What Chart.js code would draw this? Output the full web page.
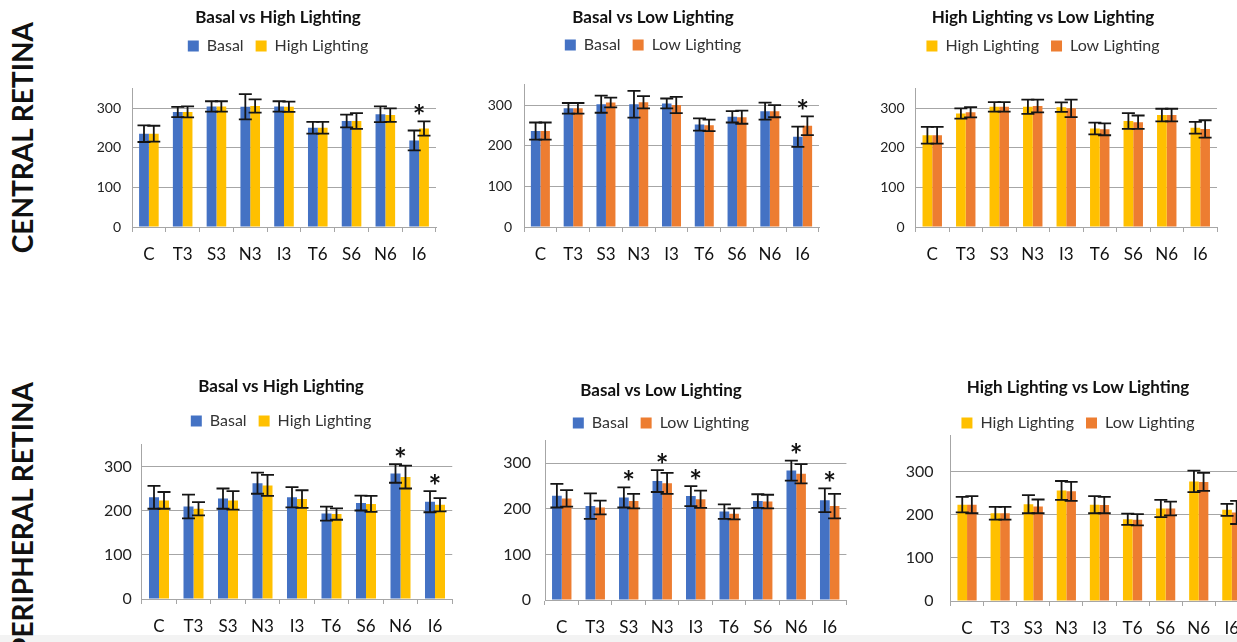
<!DOCTYPE html>
<html>
<head>
<meta charset="utf-8">
<script src="https://cdn.jsdelivr.net/npm/chart.js@4.4.0/dist/chart.umd.min.js"></script>
<style>
  html, body { margin: 0; padding: 0; background: #fff; overflow: hidden; }
  body { width: 1237px; height: 642px; position: relative; }
  canvas { position: absolute; }
  .side {
    position: absolute;
    writing-mode: vertical-rl;
    transform: rotate(180deg);
    font: bold 28px Lato, "Open Sans", sans-serif;
    line-height: 30px;
    color: #111;
    white-space: nowrap;
  }
  .strip { position: absolute; left: 0; top: 635px; width: 1237px; height: 7px; background: #f3f3f3; }
</style>
</head>
<body>
<div class="strip"></div>
<div class="side" style="left:7px; top:22px">CENTRAL RETINA</div>
<div class="side" style="left:7px; top:382px">PERIPHERAL RETINA</div>

<script>
// ---- data ----
const categories = ['C', 'T3', 'S3', 'N3', 'I3', 'T6', 'S6', 'N6', 'I6'];

// central retina
const cBH_basal    = [236, 291, 305, 304, 305, 251, 268, 285, 219];
const cBH_basalErr = [21, 13, 13, 32, 13, 15, 16, 20, 25];
const cBH_high     = [236, 291, 305, 306, 304, 251, 268, 283, 249];
const cBH_highErr  = [20, 14, 13, 17, 13, 15, 20, 17, 18];
const cBH_sig      = [0, 0, 0, 0, 0, 0, 0, 0, 1];

const cBL_basal    = [236, 292, 302, 302, 304, 252, 271, 285, 222];
const cBL_basalErr = [21, 13, 21, 33, 12, 15, 14, 21, 25];
const cBL_low      = [236, 292, 306, 307, 300, 250, 270, 285, 249];
const cBL_lowErr   = [21, 13, 12, 15, 20, 14, 16, 15, 23];
const cBL_sig      = [0, 0, 0, 0, 0, 0, 0, 0, 1];

const cHL_high     = [232, 287, 304, 304, 303, 249, 268, 283, 251];
const cHL_highErr  = [21, 13, 12, 18, 12, 15, 20, 16, 15];
const cHL_low      = [232, 290, 304, 306, 300, 247, 265, 283, 248];
const cHL_lowErr   = [21, 13, 12, 16, 22, 15, 17, 16, 22];
const cHL_sig      = [0, 0, 0, 0, 0, 0, 0, 0, 0];

// peripheral retina
const pBH_basal    = [231, 210, 228, 263, 231, 194, 218, 285, 221];
const pBH_basalErr = [26, 27, 23, 24, 23, 16, 17, 21, 24];
const pBH_high     = [224, 205, 224, 258, 227, 193, 216, 277, 214];
const pBH_highErr  = [19, 15, 21, 24, 20, 13, 18, 26, 15];
const pBH_sig      = [0, 0, 0, 0, 0, 0, 0, 1, 1];

const pBL_basal    = [229, 206, 225, 261, 228, 194, 217, 284, 219];
const pBL_basalErr = [26, 28, 22, 24, 22, 16, 15, 22, 26];
const pBL_low      = [223, 203, 217, 256, 221, 189, 216, 277, 206];
const pBL_lowErr   = [18, 15, 16, 23, 19, 12, 15, 21, 27];
const pBL_sig      = [0, 0, 1, 1, 1, 0, 0, 1, 1];

const pHL_high     = [224, 204, 225, 257, 224, 190, 215, 278, 212];
const pHL_highErr  = [18, 15, 21, 22, 20, 13, 20, 25, 14];
const pHL_low      = [224, 204, 220, 255, 223, 189, 215, 277, 206];
const pHL_lowErr   = [20, 15, 16, 22, 19, 13, 16, 21, 27];
const pHL_sig      = [0, 0, 0, 0, 0, 0, 0, 0, 0];

const BLUE = '#4472C4', YELLOW = '#FFC000', ORANGE = '#ED7D31';
const GRID = '#a6a6a6';

Chart.defaults.font.family = 'Lato, "Open Sans", sans-serif';
Chart.defaults.color = '#222';

// where each panel sits on the page (plot area edges, title / legend centres)
const panels = [
  { title: 'Basal vs High Lighting', names: ['Basal', 'High Lighting'], colors: [BLUE, YELLOW],
    values: [cBH_basal, cBH_high], errors: [cBH_basalErr, cBH_highErr], sig: cBH_sig, yMax: 350,
    box: { left: 132, right: 436, top: 88.6, bottom: 226.7, cx: 278, titleY: 18, legendY: 46 }, yFont: 14, yPad: 11 },
  { title: 'Basal vs Low Lighting', names: ['Basal', 'Low Lighting'], colors: [BLUE, ORANGE],
    values: [cBL_basal, cBL_low], errors: [cBL_basalErr, cBL_lowErr], sig: cBL_sig, yMax: 350,
    box: { left: 524, right: 819, top: 84.7, bottom: 226.7, cx: 653, titleY: 18, legendY: 45 }, yFont: 14, yPad: 12 },
  { title: 'High Lighting vs Low Lighting', names: ['High Lighting', 'Low Lighting'], colors: [YELLOW, ORANGE],
    values: [cHL_high, cHL_low], errors: [cHL_highErr, cHL_lowErr], sig: cHL_sig, yMax: 350,
    box: { left: 915.5, right: 1217, top: 88.6, bottom: 226.7, cx: 1043, titleY: 18, legendY: 46 }, yFont: 14, yPad: 11 },
  { title: 'Basal vs High Lighting', names: ['Basal', 'High Lighting'], colors: [BLUE, YELLOW],
    values: [pBH_basal, pBH_high], errors: [pBH_basalErr, pBH_highErr], sig: pBH_sig, yMax: 350,
    box: { left: 141.75, right: 452.25, top: 444.9, bottom: 599.3, cx: 281, titleY: 387, legendY: 421 }, yFont: 16, yPad: 10 },
  { title: 'Basal vs Low Lighting', names: ['Basal', 'Low Lighting'], colors: [BLUE, ORANGE],
    values: [pBL_basal, pBL_low], errors: [pBL_basalErr, pBL_lowErr], sig: pBL_sig, yMax: 350,
    box: { left: 545, right: 849, top: 440.5, bottom: 600, cx: 661, titleY: 391, legendY: 423 }, yFont: 16, yPad: 14 },
  { title: 'High Lighting vs Low Lighting', names: ['High Lighting', 'Low Lighting'], colors: [YELLOW, ORANGE],
    values: [pHL_high, pHL_low], errors: [pHL_highErr, pHL_lowErr], sig: pHL_sig, yMax: 386,
    box: { left: 950.5, right: 1248.4, top: 435, bottom: 600.7, cx: 1078, titleY: 388, legendY: 423 }, yFont: 16, yPad: 17 },
];

const TITLE_SIZE = 17, LEGEND_SIZE = 16, LEGEND_PAD = 12;

// error bars and significance stars, drawn from the scales
const errorBars = {
  id: 'errorBars',
  afterDatasetsDraw(chart, args, opts) {
    const ctx = chart.ctx;
    const y = chart.scales.y, x = chart.scales.x;
    ctx.save();
    ctx.strokeStyle = '#151515';
    ctx.lineWidth = 1.8;
    chart.data.datasets.forEach((ds, i) => {
      chart.getDatasetMeta(i).data.forEach((bar, j) => {
        const top = y.getPixelForValue(ds.data[j] + ds.errors[j]);
        const bot = y.getPixelForValue(ds.data[j] - ds.errors[j]);
        ctx.beginPath();
        ctx.moveTo(bar.x, top); ctx.lineTo(bar.x, bot);
        ctx.moveTo(bar.x - 6.5, top); ctx.lineTo(bar.x + 6.5, top);
        ctx.moveTo(bar.x - 6.5, bot); ctx.lineTo(bar.x + 6.5, bot);
        ctx.stroke();
      });
    });
    ctx.fillStyle = '#111';
    ctx.font = 'bold 30px Lato, "Open Sans", sans-serif';
    ctx.textAlign = 'center';
    ctx.textBaseline = 'alphabetic';
    (opts.sig || []).forEach((s, j) => {
      if (!s) return;
      let hi = Infinity;
      chart.data.datasets.forEach(ds => {
        hi = Math.min(hi, y.getPixelForValue(ds.data[j] + ds.errors[j]));
      });
      ctx.fillText('*', x.getPixelForValue(j), hi - 12 + 17.5);
    });
    ctx.restore();
  }
};

// extra room under the legend
const legendGap = {
  id: 'legendGap',
  beforeInit(chart, args, opts) {
    const legend = chart.legend;
    const fit = legend.fit;
    legend.fit = function () {
      fit.call(this);
      this.height += opts.extra || 0;
    };
  }
};

panels.forEach((p) => {
  const b = p.box;
  const lh = TITLE_SIZE * 1.2;
  const canvasLeft = Math.floor(Math.min(b.left - 50, 2 * b.cx - b.right));
  const canvasW = Math.ceil(Math.max(2 * (b.cx - canvasLeft), b.right - canvasLeft));
  const canvasTop = Math.round(b.titleY - 2 - lh / 2);
  const titleTop = b.titleY - lh / 2 - canvasTop;
  const xH = 44;
  const canvasH = Math.round(b.bottom + xH - canvasTop);
  const yW = b.left - canvasLeft;
  const padRight = canvasLeft + canvasW - b.right;
  const titleBottom = b.legendY - (LEGEND_PAD + LEGEND_SIZE / 2) - (b.titleY + lh / 2);
  const legendTop = b.titleY + lh / 2 + titleBottom;
  const extra = b.top - (legendTop + LEGEND_SIZE + LEGEND_PAD + 10);

  const cv = document.createElement('canvas');
  cv.width = canvasW;
  cv.height = canvasH;
  cv.style.left = canvasLeft + 'px';
  cv.style.top = canvasTop + 'px';
  cv.style.width = canvasW + 'px';
  cv.style.height = canvasH + 'px';
  document.body.appendChild(cv);

  new Chart(cv.getContext('2d'), {
    type: 'bar',
    data: {
      labels: categories,
      datasets: p.names.map((name, k) => ({
        label: name,
        data: p.values[k],
        errors: p.errors[k],
        backgroundColor: p.colors[k],
        borderWidth: 0,
        categoryPercentage: 0.58,
        barPercentage: 1.0,
      })),
    },
    options: {
      responsive: false,
      animation: false,
      layout: { padding: 0 },
      scales: {
        x: {
          grid: { display: true, drawOnChartArea: false, drawTicks: true, tickLength: 5, color: GRID, offset: true },
          border: { display: true, color: GRID },
          ticks: { font: { size: 17 }, color: '#111', padding: 12, maxRotation: 0 },
          afterFit(s) { s.height = xH; },
        },
        y: {
          min: 0,
          max: p.yMax,
          grid: { color: GRID, drawTicks: false },
          border: { display: true, color: GRID },
          ticks: { stepSize: 100, includeBounds: false, font: { size: p.yFont }, color: '#222', padding: p.yPad },
          afterFit(s) { s.width = yW; },
        },
        yPad: {
          position: 'right',
          display: true,
          grid: { display: false, drawTicks: false },
          border: { display: false },
          ticks: { display: false },
          afterFit(s) { s.width = padRight; },
        },
      },
      plugins: {
        title: {
          display: true,
          text: p.title,
          color: '#111',
          font: { size: TITLE_SIZE, weight: 'bold' },
          padding: { top: titleTop, bottom: titleBottom },
        },
        legend: {
          display: true,
          labels: { boxWidth: 11, boxHeight: 11, padding: LEGEND_PAD, font: { size: LEGEND_SIZE }, color: '#333' },
        },
        tooltip: { enabled: false },
        legendGap: { extra: extra },
        errorBars: { sig: p.sig },
      },
    },
    plugins: [legendGap, errorBars],
  });
});
</script>
</body>
</html>
